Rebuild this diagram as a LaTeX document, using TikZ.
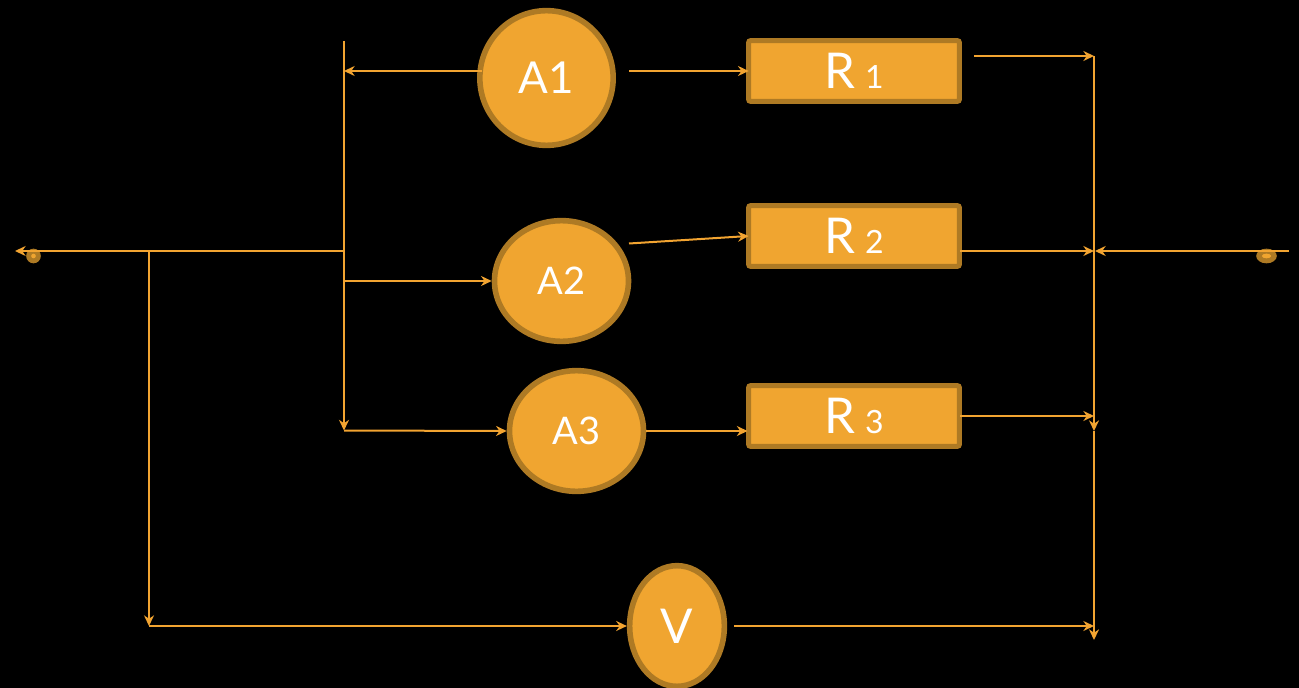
\documentclass[tikz,border=0pt]{standalone}
\usepackage{fontspec}
\setmainfont{Lato}
\usetikzlibrary{arrows.meta,shapes.geometric}
\definecolor{fillc}{HTML}{F0A530}
\definecolor{edgec}{HTML}{AE7A24}
\definecolor{linec}{HTML}{F2A431}
\tikzset{
  wire/.style={draw=linec,line width=1.5pt},
  arrowwire/.style={wire,-{Stealth[length=8pt,width=7.5pt,inset=2.6pt]}},
  meter/.style={ellipse,draw=edgec,fill=fillc,line width=4.2pt,inner sep=0pt,text=white},
  resistor/.style={rectangle,rounded corners=1.5pt,draw=edgec,fill=fillc,line width=3.8pt,inner sep=0pt,outer sep=0pt,
    minimum width=158pt,minimum height=45.5pt,text=white,font=\fontsize{37}{37}\selectfont},
  terminal/.style={ellipse,fill=edgec,inner sep=0pt},
  terminalcore/.style={ellipse,fill=fillc,inner sep=0pt},
}
\newcommand{\rlabel}[2]{#1\hspace{0.2em}{\fontsize{24}{24}\selectfont #2}}
\begin{document}
\begin{tikzpicture}[x=0.75pt,y=-0.75pt]
\fill[black] (0,0) rectangle (1299,688);
\useasboundingbox (0,0) rectangle (1299,688);
\clip (0,0) rectangle (1299,688);

% terminals
\node[terminal,minimum width=11pt,minimum height=11pt] (tl) at (33.5,256) {};
\node[terminalcore,minimum width=3.5pt,minimum height=3.5pt] (tlc) at (33.5,256) {};
\node[terminal,minimum width=15.5pt,minimum height=11pt] (tr) at (1266.5,256) {};
\node[terminalcore,minimum width=7pt,minimum height=3.5pt] (trc) at (1266.5,256) {};

% junctions and free ends
\coordinate (busT) at (344,41);
\coordinate (busA) at (344,71);
\coordinate (busM) at (344,251);
\coordinate (busB) at (344,281);
\coordinate (busE) at (344,430.5);
\coordinate (lEnd) at (15,251);
\coordinate (vJ) at (149,251);
\coordinate (vE) at (149,626);
\coordinate (rT) at (1094,56);
\coordinate (rM) at (1094,251);
\coordinate (rB) at (1094,416);
\coordinate (rV) at (1094,626);
\coordinate (rE1) at (1094,431);
\coordinate (rE2) at (1094,640);
\coordinate (rStart) at (1289,251);
\coordinate (rMr) at (1095,251);
\coordinate (a1L) at (482,71);
\coordinate (a1R) at (629,71);
\coordinate (a2R) at (629,243.5);
\coordinate (r1R) at (974,56);
\coordinate (r2R) at (960,251);
\coordinate (r3R) at (960,416);
\coordinate (r3L) at (747.5,431);
\coordinate (vR) at (734,626);

% wires
\draw[arrowwire] (busM) -- (lEnd);
\draw[arrowwire] (vJ) -- (vE);
\draw[arrowwire] (busT) -- (busE);
\draw[arrowwire] (rT) -- (rE1);
\draw[arrowwire] (rE1) -- (rE2);
\draw[arrowwire] (rStart) -- (rMr);
\draw[arrowwire] (r1R) -- (rT);
\draw[arrowwire] (vR) -- (rV);

% meters
\node[meter,minimum width=100pt,minimum height=101pt,font=\fontsize{33}{33}\selectfont] (a1) at (546.5,78) {A1};
\node[meter,minimum width=100.5pt,minimum height=90.5pt,font=\fontsize{28.5}{28.5}\selectfont] (a2) at (561.5,281) {A2};
\node[meter,minimum width=100.5pt,minimum height=90.5pt,font=\fontsize{28.5}{28.5}\selectfont] (a3) at (576.5,431) {A3};
\node[meter,minimum width=71pt,minimum height=90.5pt,font=\fontsize{36}{36}\selectfont] (v) at (677,626) {V};

% resistors
\node[resistor] (r1) at (854,71) {\rlabel{R}{1}};
\node[resistor] (r2) at (854,236) {\rlabel{R}{2}};
\node[resistor] (r3) at (854,416) {\rlabel{R}{3}};

% wires meeting nodes
\draw[arrowwire] (a1L) -- (busA);
\draw[arrowwire] (a1R) -- (r1.west);
\draw[arrowwire] (a2R) -- (r2.west);
\draw[arrowwire] (a3.east) -- (r3L);
\draw[arrowwire] (busB) -- (a2.west);
\draw[arrowwire] (busE) -- (a3.west);
\draw[arrowwire] (vE) -- (v.west);
\draw[arrowwire] (r2R) -- (rM);
\draw[arrowwire] (r3R) -- (rB);
\end{tikzpicture}
\end{document}
